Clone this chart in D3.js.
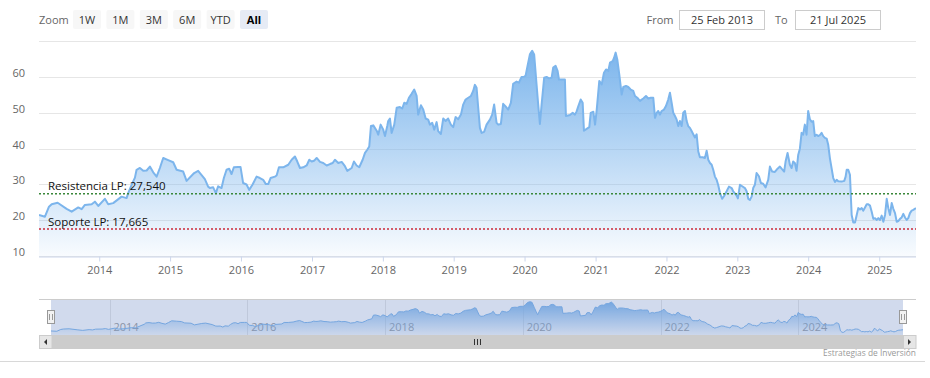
<!DOCTYPE html>
<html><head><meta charset="utf-8">
<script src="https://cdn.jsdelivr.net/npm/d3@7"></script>
<style>html,body{margin:0;padding:0;background:#fff;}svg{display:block;font-family:"Open Sans",sans-serif;}</style>
</head><body><svg id="c" width="930" height="378"></svg>
<script>
// ---- data (decimal years, price) ----
const timeYears = [
2013.150,2013.234,2013.291,2013.329,2013.413,2013.540,2013.611,2013.704,2013.752,2013.798,2013.893,2013.939,2013.986,
2014.080,2014.127,2014.197,2014.316,2014.386,2014.409,2014.457,2014.504,2014.527,2014.574,2014.621,2014.669,2014.715,2014.762,2014.810,2014.856,2014.903,2014.973,
2015.044,2015.092,2015.185,2015.233,2015.340,2015.396,2015.491,2015.537,2015.561,2015.608,2015.646,2015.678,2015.726,2015.759,2015.797,2015.834,2015.867,2015.900,2015.960,2015.994,
2016.031,2016.079,2016.116,2016.164,2016.220,2016.267,2016.313,2016.351,2016.384,2016.417,2016.478,2016.502,2016.535,2016.595,2016.666,2016.714,2016.760,2016.793,2016.831,2016.877,2016.925,2016.962,2016.996,
2017.028,2017.066,2017.113,2017.159,2017.207,2017.254,2017.292,2017.324,2017.371,2017.419,2017.465,2017.498,2017.560,2017.592,2017.630,2017.667,2017.715,2017.748,2017.780,2017.808,2017.832,2017.865,2017.913,2017.935,2017.969,
2018.006,2018.030,2018.062,2018.076,2018.100,2018.124,2018.161,2018.195,2018.241,2018.274,2018.302,2018.336,2018.368,2018.406,2018.443,2018.477,2018.499,2018.537,2018.570,2018.604,2018.640,2018.664,2018.697,2018.725,2018.759,2018.781,2018.819,2018.852,2018.886,2018.922,2018.960,2018.993,
2019.027,2019.063,2019.102,2019.134,2019.168,2019.205,2019.243,2019.275,2019.299,2019.323,2019.346,2019.370,2019.394,2019.430,2019.464,2019.511,2019.543,2019.571,2019.605,2019.628,2019.666,2019.698,2019.732,2019.769,2019.807,2019.839,2019.887,2019.920,2019.958,2019.994,
2020.014,2020.042,2020.075,2020.107,2020.135,2020.169,2020.192,2020.216,2020.240,2020.276,2020.310,2020.343,2020.381,2020.403,2020.437,2020.465,2020.484,2020.522,2020.568,2020.582,2020.639,2020.677,2020.709,2020.733,2020.756,2020.790,2020.818,2020.836,2020.874,2020.911,2020.931,2020.968,2020.992,
2021.016,2021.052,2021.086,2021.118,2021.147,2021.179,2021.203,2021.241,2021.260,2021.283,2021.306,2021.334,2021.368,2021.391,2021.429,2021.461,2021.495,2021.532,2021.556,2021.588,2021.626,2021.650,2021.673,2021.711,2021.743,2021.777,2021.814,2021.838,2021.862,2021.884,2021.908,2021.932,2021.965,2021.993,
2022.025,2022.049,2022.073,2022.096,2022.120,2022.144,2022.166,2022.190,2022.214,2022.237,2022.261,2022.285,2022.307,2022.331,2022.355,2022.378,2022.402,2022.426,2022.449,2022.472,2022.511,2022.543,2022.567,2022.590,2022.614,2022.638,2022.660,2022.684,2022.708,2022.731,2022.755,2022.787,2022.811,2022.849,2022.882,2022.920,2022.942,2022.966,2022.990,
2023.008,2023.037,2023.069,2023.107,2023.131,2023.154,2023.178,2023.202,2023.224,2023.248,2023.272,2023.305,2023.333,2023.365,2023.399,2023.436,2023.460,2023.492,2023.530,2023.568,2023.601,2023.625,2023.661,2023.681,2023.709,2023.742,2023.766,2023.788,2023.812,2023.836,2023.859,2023.883,2023.907,2023.929,2023.953,2023.977,
2024.000,2024.024,2024.048,2024.071,2024.094,2024.118,2024.141,2024.165,2024.189,2024.212,2024.236,2024.260,2024.282,2024.306,2024.330,2024.353,2024.377,2024.401,2024.423,2024.471,2024.508,2024.527,2024.542,2024.564,2024.588,2024.612,2024.635,2024.659,2024.683,2024.705,2024.729,2024.753,2024.776,2024.800,2024.824,2024.846,2024.870,2024.894,2024.917,2024.941,2024.965,2024.987,
2025.011,2025.035,2025.058,2025.082,2025.106,2025.128,2025.152,2025.176,2025.199,2025.223,2025.247,2025.269,2025.293,2025.317,2025.340,2025.364,2025.388,2025.410,2025.434,2025.458,2025.481,2025.519
];
const prices = [
21.6,21.1,23.9,24.6,25.0,23.3,22.5,23.7,23.2,24.4,24.6,25.3,24.1,
26.1,24.6,24.9,26.7,26.3,27.7,30.0,32.0,34.2,34.7,33.9,34.0,35.1,33.5,32.3,34.7,37.5,36.9,
36.3,34.2,33.7,31.1,33.3,33.9,31.6,29.5,29.1,29.3,27.7,29.6,29.1,31.9,34.2,34.5,33.0,34.9,35.0,35.0,
30.5,30.1,28.6,30.1,32.3,31.9,31.4,30.2,30.2,31.9,32.3,32.6,34.9,34.9,35.6,37.0,37.9,36.5,34.7,34.9,35.4,37.0,36.5,
36.7,37.5,36.4,36.1,35.4,35.8,36.1,37.0,36.1,36.4,35.2,33.9,34.7,36.5,35.4,34.9,37.0,38.9,39.8,40.7,46.4,46.6,45.1,44.0,46.8,
45.4,43.6,46.4,47.8,48.5,44.5,46.8,51.5,51.7,51.3,52.9,52.6,54.3,55.4,56.6,54.8,49.6,52.2,51.0,48.5,48.2,46.8,47.3,45.4,47.5,45.0,44.2,48.5,47.8,48.5,46.8,46.1,
48.9,48.3,49.6,52.4,53.8,54.3,54.8,56.2,57.9,57.1,51.5,45.9,44.5,44.8,46.8,48.2,49.6,52.4,47.3,46.8,47.0,52.6,51.9,51.0,52.9,58.2,58.8,58.5,60.1,60.2,
60.4,63.2,66.4,67.4,66.4,58.0,52.4,47.0,52.4,59.9,60.1,59.7,59.9,62.7,63.2,61.8,59.4,59.4,59.4,49.2,49.5,50.1,49.6,50.5,51.9,53.8,52.9,45.1,45.6,46.1,50.1,50.4,46.8,
51.0,59.0,58.0,61.3,62.2,61.8,64.1,64.5,65.4,66.9,65.0,60.8,55.2,57.3,57.6,57.3,56.6,56.2,54.8,54.3,53.4,53.8,54.1,54.8,54.1,54.3,54.3,48.7,50.1,50.6,49.6,50.6,51.0,52.0,
53.8,55.7,52.9,50.1,49.2,48.2,46.4,47.8,46.4,50.1,50.6,47.8,46.4,45.9,45.0,44.1,43.2,44.1,39.3,37.7,37.7,37.5,39.5,37.0,36.1,35.6,34.2,32.3,31.4,29.9,27.7,26.1,26.8,28.2,29.5,29.1,28.2,27.6,27.0,
26.2,30.0,29.6,29.1,28.2,26.1,25.8,26.7,29.1,30.0,33.3,32.4,30.5,30.3,29.3,31.4,35.1,33.7,33.6,34.5,35.1,34.5,33.7,36.5,38.9,35.6,34.7,36.5,36.1,33.9,38.3,40.1,44.5,44.0,46.8,44.0,
50.6,48.3,47.6,47.8,43.6,44.0,43.6,43.9,44.5,43.6,43.1,42.9,41.2,37.4,34.6,31.9,30.8,31.4,31.0,30.9,31.1,32.3,34.2,34.2,32.8,21.6,19.5,19.5,21.6,23.5,23.1,23.5,22.8,23.7,24.6,24.6,24.2,22.5,20.5,20.7,20.2,20.7,
20.2,21.4,19.7,21.6,26.1,23.5,21.6,24.9,23.3,22.1,19.7,19.9,20.5,20.9,21.9,20.9,20.2,20.7,22.1,22.8,23.0,23.5
];
const yDomain = [10, 70];
const yTickValues = [10, 20, 30, 40, 50, 60];
const gridValues = [10, 20, 30, 40, 50, 60, 70];
const xTickYears = [2014,2015,2016,2017,2018,2019,2020,2021,2022,2023,2024,2025];
const navTickYears = [2014,2016,2018,2020,2022,2024];
const rangeButtons = ["1W","1M","3M","6M","YTD","All"];
const selectedButton = "All";
const fromText = "25 Feb 2013";
const toText = "21 Jul 2025";
const plotLineValues = [27.54, 17.665];
const plotLineLabels = ["Resistencia LP: 27,540", "Soporte LP: 17,665"];
const creditsText = "Estrategias de Inversión";

// ---- styles / layout ----
const SERIES = "#7cb5ec";
const plotLineColors = ["#3a873a", "#cc2a3a"];
const P = {left: 39, right: 916, top: 41.5, bottom: 256.5};
const NAV = {left: 51, right: 903, top: 299, bottom: 335};

const toDate = t => { const yr = Math.floor(t); const s = new Date(yr, 0, 1), e = new Date(yr + 1, 0, 1); return new Date(+s + (t - yr) * (e - s)); };
const data = timeYears.map((t, i) => ({date: toDate(t), v: prices[i]}));

const svg = d3.select("#c");
const defs = svg.append("defs");
const grad = defs.append("linearGradient").attr("id", "ag").attr("x1", 0).attr("y1", 0).attr("x2", 0).attr("y2", 1);
grad.append("stop").attr("offset", 0).attr("stop-color", SERIES).attr("stop-opacity", 1);
grad.append("stop").attr("offset", 1).attr("stop-color", SERIES).attr("stop-opacity", 0.05);
defs.append("clipPath").attr("id", "pc").append("rect").attr("x", P.left).attr("y", P.top - 5).attr("width", P.right - P.left).attr("height", P.bottom - P.top + 5);

const x = d3.scaleTime().domain(d3.extent(data, d => d.date)).range([P.left, P.right]);
const y = d3.scaleLinear().domain(yDomain).range([P.bottom, P.top]);

// grid
svg.append("g").selectAll("line").data(gridValues).join("line")
  .attr("x1", P.left).attr("x2", P.right)
  .attr("y1", d => Math.floor(y(d)) + 0.5).attr("y2", d => Math.floor(y(d)) + 0.5)
  .attr("stroke", "#e6e6e6").attr("stroke-width", 1);

// y axis labels
const yAx = svg.append("g").attr("transform", `translate(${P.left},0)`)
  .call(d3.axisLeft(y).tickValues(yTickValues).tickSize(0).tickPadding(14));
yAx.select(".domain").remove();
yAx.selectAll("text").attr("font-family", "Open Sans").attr("font-size", 11).attr("fill", "#666").attr("dy", -1);

// x axis
const xAx = svg.append("g").attr("transform", `translate(0,${P.bottom})`)
  .call(d3.axisBottom(x).tickValues(xTickYears.map(yr => new Date(yr, 0, 1))).tickFormat(d3.timeFormat("%Y")).tickSize(5).tickPadding(5));
xAx.select(".domain").attr("stroke", "#ccd6eb").attr("d", `M${P.left},0.5H${P.right}`);
xAx.selectAll(".tick line").attr("stroke", "#ccd6eb");
xAx.selectAll("text").attr("font-family", "Open Sans").attr("font-size", 11).attr("fill", "#666");

// series
const area = d3.area().x(d => x(d.date)).y0(P.bottom).y1(d => y(d.v));
const line = d3.line().x(d => x(d.date)).y(d => y(d.v));
const sg = svg.append("g").attr("clip-path", "url(#pc)");
sg.append("path").datum(data).attr("d", area).attr("fill", "url(#ag)");
sg.append("path").datum(data).attr("d", line).attr("fill", "none").attr("stroke", SERIES).attr("stroke-width", 2).attr("stroke-linejoin", "round");

// plot lines
plotLineValues.forEach((v, i) => {
  svg.append("line").attr("x1", P.left).attr("x2", P.right).attr("y1", y(v)).attr("y2", y(v))
    .attr("stroke", plotLineColors[i]).attr("stroke-width", 1.5).attr("stroke-dasharray", "2,2");
  svg.append("text").attr("x", 48).attr("y", y(v) - 3.5).attr("font-size", 11.5).attr("fill", "#111").text(plotLineLabels[i]);
});

// range selector
svg.append("text").attr("x", 39).attr("y", 23.5).attr("font-size", 11).attr("fill", "#666").text("Zoom");
const bg = svg.append("g").selectAll("g").data(rangeButtons).join("g")
  .attr("transform", (d, i) => `translate(${73 + i * 33.4},10)`);
bg.append("rect").attr("width", 28).attr("height", 19).attr("rx", 2)
  .attr("fill", d => d === selectedButton ? "#e6ebf5" : "#f7f7f7");
bg.append("text").attr("x", 14).attr("y", 13.5).attr("text-anchor", "middle").attr("font-size", 11)
  .attr("font-weight", d => d === selectedButton ? "bold" : "normal")
  .attr("fill", d => d === selectedButton ? "#000" : "#333").text(d => d);

// date inputs
svg.append("text").attr("x", 646.5).attr("y", 23.5).attr("font-size", 11).attr("fill", "#666").text("From");
svg.append("text").attr("x", 775).attr("y", 23.5).attr("font-size", 11).attr("fill", "#666").text("To");
[[679.5, fromText], [795.5, toText]].forEach(([bx, t]) => {
  svg.append("rect").attr("x", bx).attr("y", 10.5).attr("width", 85).attr("height", 19).attr("fill", "#fff").attr("stroke", "#ccc");
  svg.append("text").attr("x", bx + 42.5).attr("y", 23.5).attr("text-anchor", "middle").attr("font-size", 11).attr("fill", "#333").text(t);
});

// navigator
const nx = d3.scaleTime().domain(x.domain()).range([NAV.left, NAV.right]);
const ny = d3.scaleLinear().domain(d3.extent(prices)).range([332.3, 301.7]);
const ng = svg.append("g");
ng.selectAll("line.g").data(navTickYears).join("line")
  .attr("x1", d => Math.round(nx(new Date(d, 0, 1))) + 0.5).attr("x2", d => Math.round(nx(new Date(d, 0, 1))) + 0.5)
  .attr("y1", NAV.top).attr("y2", NAV.bottom).attr("stroke", "#e6e6e6");
ng.selectAll("text").data(navTickYears).join("text")
  .attr("x", d => nx(new Date(d, 0, 1)) + 4).attr("y", NAV.bottom - 4).attr("font-size", 11).attr("fill", "#999").text(d => d);
const narea = d3.area().x(d => nx(d.date)).y0(NAV.bottom).y1(d => ny(d.v));
const nline = d3.line().x(d => nx(d.date)).y(d => ny(d.v));
ng.append("path").datum(data).attr("d", narea).attr("fill", "url(#ag)");
ng.append("path").datum(data).attr("d", nline).attr("fill", "none").attr("stroke", SERIES).attr("stroke-width", 1);
ng.append("rect").attr("x", NAV.left).attr("y", NAV.top).attr("width", NAV.right - NAV.left).attr("height", NAV.bottom - NAV.top)
  .attr("fill", "rgba(102,133,194,0.3)");
ng.append("path").attr("d", `M${P.left},${NAV.top + 0.5}H${P.right}`).attr("stroke", "#ccc").attr("fill", "none");
[NAV.left, NAV.right].forEach(hx => {
  ng.append("rect").attr("x", Math.round(hx) - 3.5).attr("y", 310.5).attr("width", 7).attr("height", 13)
    .attr("fill", "#f2f2f2").attr("stroke", "#999");
  ng.append("path").attr("d", `M${Math.round(hx) - 1.5},314V320M${Math.round(hx) + 1.5},314V320`).attr("stroke", "#999");
});

// scrollbar
const sb = svg.append("g");
sb.append("rect").attr("x", NAV.left).attr("y", 335.5).attr("width", NAV.right - NAV.left).attr("height", 13).attr("fill", "#ccc").attr("stroke", "#ccc");
[[P.left, -1], [NAV.right, 1]].forEach(([bx, dir]) => {
  sb.append("rect").attr("x", bx + 0.5).attr("y", 335.5).attr("width", 12.5).attr("height", 13).attr("fill", "#e6e6e6").attr("stroke", "#ccc");
  const cx = bx + 6.5, cy = 342;
  sb.append("path").attr("d", dir < 0 ? `M${cx + 1.5},${cy - 3}L${cx - 1.5},${cy}L${cx + 1.5},${cy + 3}Z` : `M${cx - 1.5},${cy - 3}L${cx + 1.5},${cy}L${cx - 1.5},${cy + 3}Z`).attr("fill", "#333");
});
const rc = Math.round((NAV.left + NAV.right) / 2);
sb.append("path").attr("d", `M${rc - 2.5},339V345M${rc + 0.5},339V345M${rc + 3.5},339V345`).attr("stroke", "#333");

// bottom border and credits
svg.append("line").attr("x1", 0).attr("x2", 925).attr("y1", 361.5).attr("y2", 361.5).attr("stroke", "#d8d8d8");
svg.append("text").attr("x", 916).attr("y", 356).attr("text-anchor", "end").attr("font-size", 8.4).attr("fill", "#999").text(creditsText);
</script></body></html>
